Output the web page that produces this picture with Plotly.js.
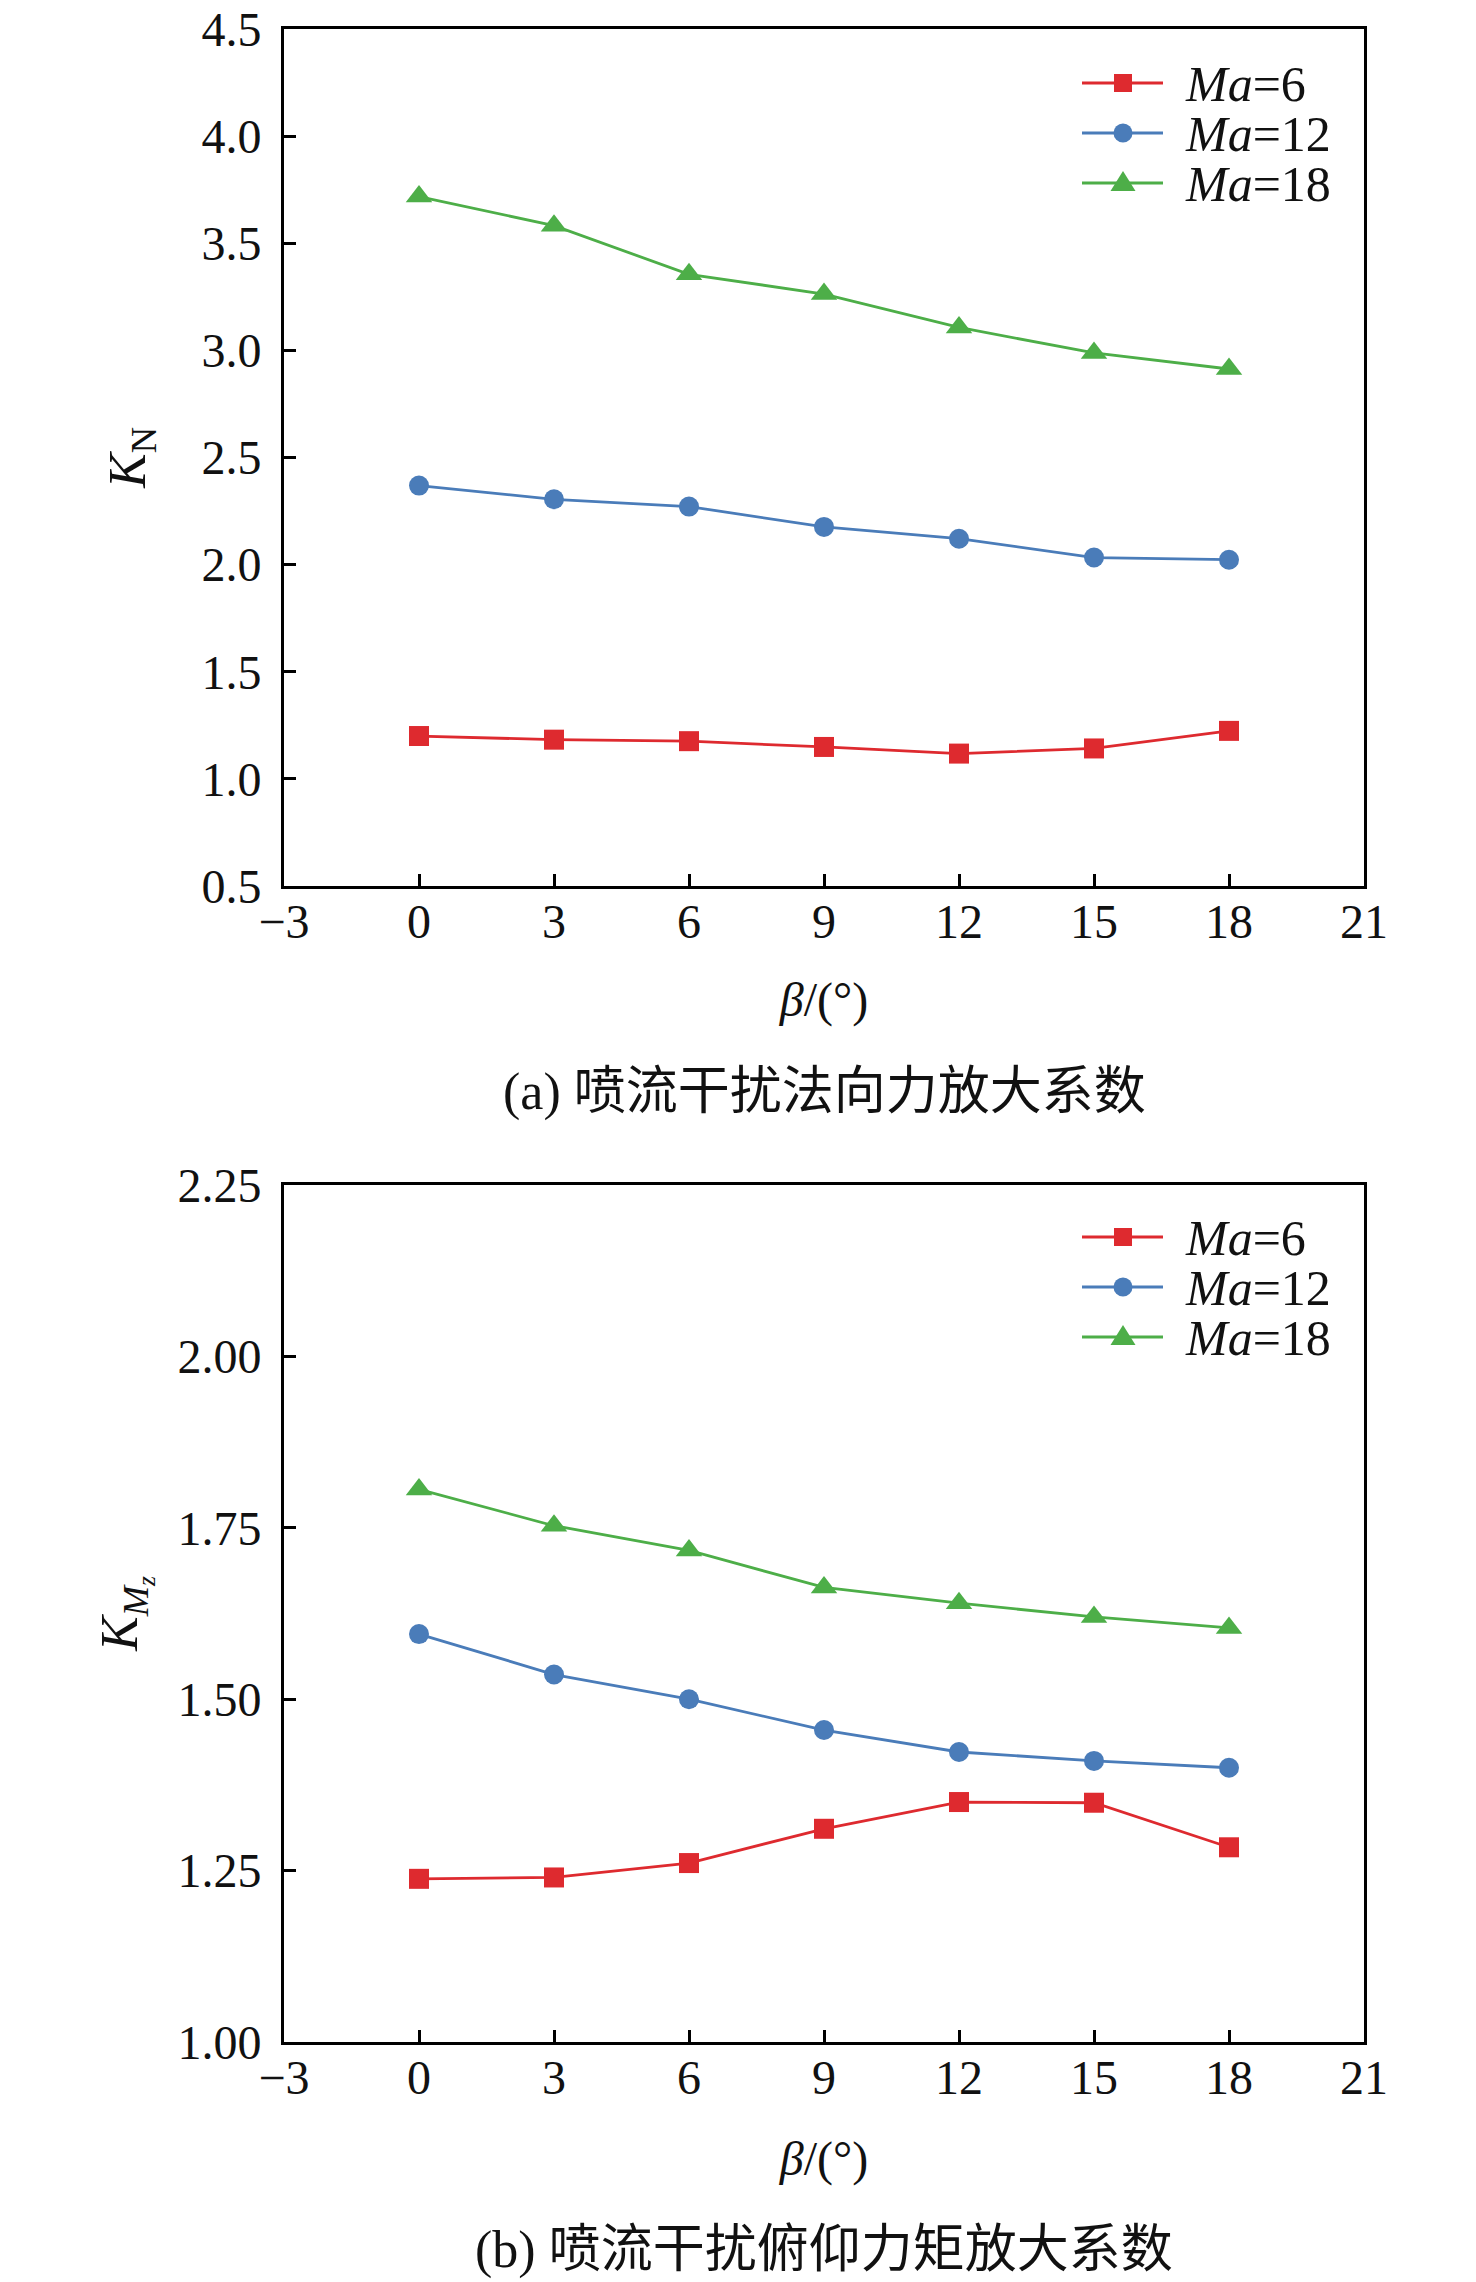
<!DOCTYPE html>
<html>
<head>
<meta charset="utf-8">
<script src="https://cdn.plot.ly/plotly-3.0.1.min.js"></script>
<style>html,body{margin:0;padding:0;background:#fff;}#chart{width:1476px;height:2282px;}</style>
</head>
<body>
<div id="chart"></div>
<script>
// ---- data ----
const beta = [0, 3, 6, 9, 12, 15, 18];
const seriesNames = ['<i>Ma</i>=6', '<i>Ma</i>=12', '<i>Ma</i>=18'];
// (a) normal-force amplification factor K_N
const kN_Ma6  = [1.200, 1.183, 1.176, 1.149, 1.118, 1.142, 1.224];
const kN_Ma12 = [2.369, 2.305, 2.271, 2.176, 2.121, 2.033, 2.023];
const kN_Ma18 = [3.718, 3.582, 3.355, 3.263, 3.107, 2.988, 2.913];
// (b) pitching-moment amplification factor K_Mz
const kM_Ma6  = [1.238, 1.240, 1.261, 1.311, 1.350, 1.349, 1.284];
const kM_Ma12 = [1.595, 1.536, 1.500, 1.455, 1.423, 1.410, 1.400];
const kM_Ma18 = [1.806, 1.753, 1.717, 1.663, 1.640, 1.620, 1.604];
const captionA = '(a) 喷流干扰法向力放大系数';
const captionB = '(b) 喷流干扰俯仰力矩放大系数';
const xTitle = '<i>β</i>/(°)';

// ---- styles ----
const FONT = '"Liberation Serif", "Times New Roman", "Noto Sans CJK SC", serif';
const colors = ['#de2a2f', '#4a7cb9', '#4dae48'];
const symbols = ['square', 'circle', 'triangle-up'];
const msizes = [20, 20, 23];

function mk(y, i, xa, ya) {
  return {
    x: beta, y: y, name: seriesNames[i], type: 'scatter', mode: 'lines+markers',
    xaxis: xa, yaxis: ya, showlegend: false,
    line: {color: colors[i], width: 2.8},
    marker: {color: colors[i], symbol: symbols[i], size: msizes[i]}
  };
}
const traces = [
  mk(kN_Ma6, 0, 'x', 'y'),
  mk(kN_Ma12, 1, 'x', 'y'),
  mk(kN_Ma18, 2, 'x', 'y'),
  mk(kM_Ma6, 0, 'x2', 'y2'),
  mk(kM_Ma12, 1, 'x2', 'y2'),
  mk(kM_Ma18, 2, 'x2', 'y2')
];

const W = 1476, H = 2282;
const xDom = [284 / W, 1364 / W];
const y1Dom = [1 - 886 / H, 1 - 29 / H];
const y2Dom = [1 - 2042 / H, 1 - 1185 / H];

function xax(anchor, standoff) {
  return {
    domain: xDom, anchor: anchor, range: [-3, 21], dtick: 3, tick0: 0,
    showgrid: false, zeroline: false, showline: true, linecolor: '#000', linewidth: 3,
    mirror: true, ticks: 'inside', ticklen: 12, tickwidth: 3, tickcolor: '#000',
    ticklabelstandoff: -9,
    tickfont: {family: FONT, size: 48, color: '#111'},
    title: {text: xTitle, font: {family: FONT, size: 48, color: '#111'}, standoff: standoff}
  };
}
function yax(anchor, dom, range, dtick, fmt, title, standoff) {
  return {
    domain: dom, anchor: anchor, range: range, dtick: dtick, tick0: range[0], tickformat: fmt,
    showgrid: false, zeroline: false, showline: true, linecolor: '#000', linewidth: 3,
    mirror: true, ticks: 'inside', ticklen: 12, tickwidth: 3, tickcolor: '#000',
    ticklabelstandoff: 10,
    tickfont: {family: FONT, size: 48, color: '#111'},
    title: {text: title, font: {family: FONT, size: 52, color: '#111'}, standoff: standoff}
  };
}

// ---- custom legend (long key lines as in the reference) ----
const shapes = [];
const annotations = [];
const px = v => v / W, py = v => 1 - v / H;
function addLegend(rowY0) {
  const rowGap = 50, lx0 = 1082, lx1 = 1163, mx = 1123, tx = 1183;
  for (let i = 0; i < seriesNames.length; i++) {
    const y = rowY0 + i * rowGap;
    shapes.push({type: 'line', xref: 'paper', yref: 'paper', x0: px(lx0), x1: px(lx1), y0: py(y), y1: py(y),
                 line: {color: colors[i], width: 3}});
    if (symbols[i] === 'square') {
      const h = 9;
      shapes.push({type: 'rect', xref: 'paper', yref: 'paper', x0: px(mx - h), x1: px(mx + h), y0: py(y + h), y1: py(y - h),
                   fillcolor: colors[i], line: {width: 0}});
    } else if (symbols[i] === 'circle') {
      const r = 9.5;
      shapes.push({type: 'circle', xref: 'paper', yref: 'paper', x0: px(mx - r), x1: px(mx + r), y0: py(y + r), y1: py(y - r),
                   fillcolor: colors[i], line: {width: 0}});
    } else {
      const hw = 12.5, up = 12, dn = 8;
      shapes.push({type: 'path', xref: 'paper', yref: 'paper',
                   path: `M${px(mx - hw)},${py(y + dn)} L${px(mx + hw)},${py(y + dn)} L${px(mx)},${py(y - up)} Z`,
                   fillcolor: colors[i], line: {width: 0}});
    }
    annotations.push({text: seriesNames[i], xref: 'paper', yref: 'paper', x: px(tx), y: py(y + 1),
                      xanchor: 'left', yanchor: 'middle', showarrow: false,
                      font: {family: FONT, size: 50, color: '#111'}});
  }
}
addLegend(83);
addLegend(1237);

annotations.push(
  {text: captionA, xref: 'paper', yref: 'paper', x: 824 / W, y: 1 - 1092 / H,
   xanchor: 'center', yanchor: 'middle', showarrow: false,
   font: {family: FONT, size: 52, color: '#111'}},
  {text: captionB, xref: 'paper', yref: 'paper', x: 824 / W, y: 1 - 2250 / H,
   xanchor: 'center', yanchor: 'middle', showarrow: false,
   font: {family: FONT, size: 52, color: '#111'}}
);

const layout = {
  width: W, height: H, margin: {l: 0, r: 0, t: 0, b: 0},
  paper_bgcolor: '#fff', plot_bgcolor: '#fff', showlegend: false,
  xaxis: xax('y', 36),
  yaxis: yax('x', y1Dom, [0.5, 4.5], 0.5, '.1f', '<i>K</i><sub>N</sub>', 40),
  xaxis2: xax('y2', 39),
  yaxis2: yax('x2', y2Dom, [1.0, 2.25], 0.25, '.2f', '<i>K</i><sub><i>M</i><sub><i>z</i></sub></sub>', 24),
  shapes: shapes,
  annotations: annotations
};

Plotly.newPlot('chart', traces, layout, {staticPlot: true, displayModeBar: false});
</script>
</body>
</html>
